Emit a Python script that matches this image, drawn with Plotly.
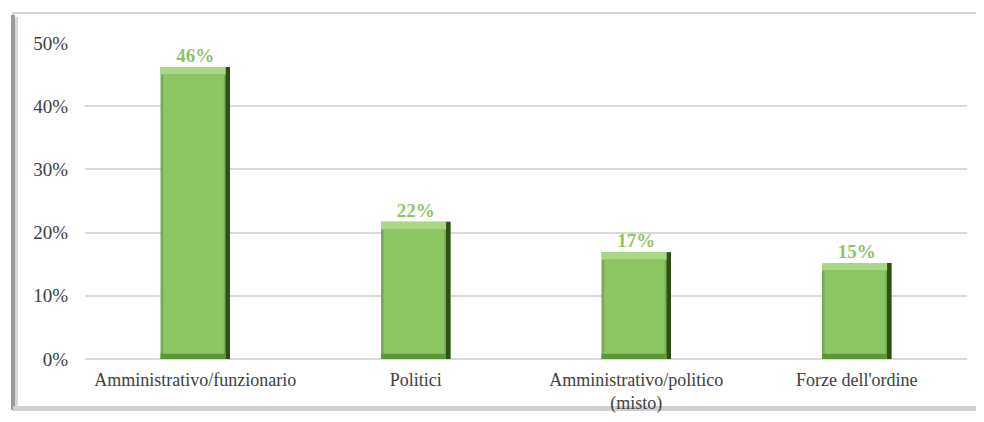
import plotly.graph_objects as go

categories = ["Amministrativo/funzionario", "Politici", "Amministrativo/politico<br>(misto)", "Forze dell'ordine"]
values = [0.462, 0.217, 0.169, 0.152]
tick_vals = [0, 0.1, 0.2, 0.3, 0.4, 0.5]
tick_text = ["0%", "10%", "20%", "30%", "40%", "50%"]

OFF = 8  # page body margin
W, H = 984, 422
L, T = 85 - OFF, 43 - OFF
pw, ph = 882, 316
R, B = W - L - pw, H - T - ph

FONT = "Liberation Serif, Times New Roman, serif"
BW = 0.315      # bar width (category units)
EDGE = 0.012    # bevel thickness in value units (top/bottom)
SIDE = 0.02     # bevel thickness in category units (sides)

def px(x):
    return (x - OFF - L) / pw

def py(y):
    return (T + ph - (y - OFF)) / ph

fig = go.Figure()
common = dict(hoverinfo="skip", showlegend=False)
# outer body (left edge tone)
fig.add_trace(go.Bar(x=categories, y=values, width=BW, marker=dict(color="#74ad4b", line=dict(width=0)), **common))
# right dark edge
fig.add_trace(go.Bar(x=categories, y=values, width=SIDE, offset=BW / 2 - SIDE,
                     marker=dict(color="#2e4d1b", line=dict(width=0)), **common))
# bottom darker edge
fig.add_trace(go.Bar(x=categories, y=[EDGE * 0.7] * len(values), width=BW - SIDE, offset=-BW / 2,
                     marker=dict(color="#5f9539", line=dict(width=0)), **common))
# top light bevel
fig.add_trace(go.Bar(x=categories, y=[EDGE] * len(values), base=[v - EDGE for v in values],
                     width=BW - SIDE, offset=-BW / 2,
                     marker=dict(color="#a9d884", line=dict(width=0)), **common))
# main face
fig.add_trace(go.Bar(x=categories, y=[v - EDGE * 1.7 for v in values], base=[EDGE * 0.7] * len(values),
                     width=BW - 2 * SIDE, offset=-BW / 2 + SIDE * 0.6,
                     marker=dict(color="#8cc663", line=dict(width=0)), **common))
# labels
fig.add_trace(go.Scatter(x=categories, y=values, mode="text", text=[f"<b>{v:.0%}</b>" for v in values],
                         textposition="top center", cliponaxis=False,
                         textfont=dict(family=FONT, size=19, color="#8cc663"), **common))

shapes = [
    dict(type="rect", xref="paper", yref="paper", x0=px(13), x1=px(980), y0=py(409), y1=py(13),
         line=dict(color="#d4d4d4", width=2), fillcolor="rgba(0,0,0,0)", layer="below"),
    dict(type="rect", xref="paper", yref="paper", x0=px(11), x1=px(15), y0=py(410), y1=py(15),
         line=dict(width=0), fillcolor="#9a9a9a", layer="below"),
    dict(type="rect", xref="paper", yref="paper", x0=px(15), x1=px(18), y0=py(407), y1=py(17),
         line=dict(width=0), fillcolor="#d9d9d9", layer="below"),
    dict(type="rect", xref="paper", yref="paper", x0=px(13), x1=px(980), y0=py(411), y1=py(406),
         line=dict(width=0), fillcolor="#cfcfcf", layer="below"),
]

fig.update_layout(
    width=W, height=H,
    margin=dict(l=L, r=R, t=T, b=B),
    paper_bgcolor="white", plot_bgcolor="white",
    barmode="overlay",
    shapes=shapes,
    font=dict(family=FONT, color="#404040"),
    xaxis=dict(showgrid=False, showline=False, ticks="", tickfont=dict(family=FONT, size=18, color="#404040"),
               ticklabelstandoff=8),
    yaxis=dict(range=[0, 0.5], tickvals=tick_vals, ticktext=tick_text, showgrid=True,
               gridcolor="#d9d9d9", gridwidth=1.5, zeroline=True, zerolinecolor="#d9d9d9", zerolinewidth=1.5,
               tickfont=dict(family=FONT, size=19, color="#404040"), ticklabelstandoff=16, showline=False),
)

fig.write_html("out.html")
